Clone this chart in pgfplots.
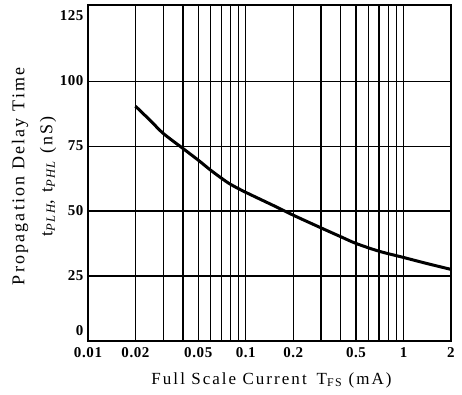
\documentclass[border=0pt]{standalone}
\usepackage{fontspec}
\setmainfont{Liberation Serif}
\newfontfamily\spaced[LetterSpace=12]{Liberation Serif}
\newfontfamily\tickfont[LetterSpace=4]{Liberation Serif}
\usepackage{pgfplots}
\pgfplotsset{compat=1.18}
\begin{document}
\begin{tikzpicture}
\path[use as bounding box] (-88pt,-53pt) rectangle (374pt,341pt);
\begin{axis}[
  at={(0pt,0pt)}, anchor=south west,
  scale only axis, width=363pt, height=336pt,
  xmode=log, xmin=0.01, xmax=2, ymin=0, ymax=129.5,
  xtick={0.01,0.02,0.03,0.04,0.05,0.06,0.07,0.08,0.09,0.1,0.2,0.3,0.4,0.5,0.6,0.7,0.8,0.9,1,2},
  xticklabels={0.01,0.02,,,0.05,,,,,0.1,0.2,,,0.5,,,,,1,2},
  ytick={0,25,50,75,100},
  yticklabels={\smash{\raisebox{5pt}{0}},25,50,75,100},
  extra y ticks={125}, extra y tick style={grid=none, yticklabels={125}},
  minor xtick={},
  major tick length=0pt,
  log ticks with fixed point,
  /pgf/number format/assume math mode=true,
  tick label style={font=\tickfont\fontsize{15}{15}\selectfont\bfseries},
  xticklabel style={yshift=-3pt},
  yticklabel style={xshift=-1pt, yshift=1pt},
  grid=major,
  x grid style={black, line width=1.2pt},
  y grid style={black, line width=1.6pt},
  axis line style={black, line width=2.2pt},
  xlabel={Full Scale Current\hspace{10pt}T\textsubscript{FS} (mA)},
  xlabel style={font=\spaced\fontsize{17}{17}\selectfont, at={(axis description cs:0.5,0)}, anchor=center, yshift=-39pt, xshift=2pt},
  ylabel={Propagation Delay Time\\ t\textsubscript{\itshape PLH}, t\textsubscript{\itshape PHL} (nS)},
  ylabel style={font=\spaced\fontsize{18}{28}\selectfont, at={(axis description cs:0,0.49)}, anchor=center, align=center, yshift=54pt},
]
\addplot[black, line width=3pt, smooth] coordinates {
 (0.02,90.5) (0.025,84.8) (0.03,80) (0.04,74.2) (0.05,69.7) (0.06,65.8) (0.07,62.8)
 (0.08,60.4) (0.1,57.3) (0.15,52.2) (0.2,48.5) (0.3,43.6) (0.4,40.2) (0.5,37.6)
 (0.7,34.6) (1,32.2) (1.4,29.9) (2,27.6)
};
\end{axis}
\end{tikzpicture}
\end{document}
